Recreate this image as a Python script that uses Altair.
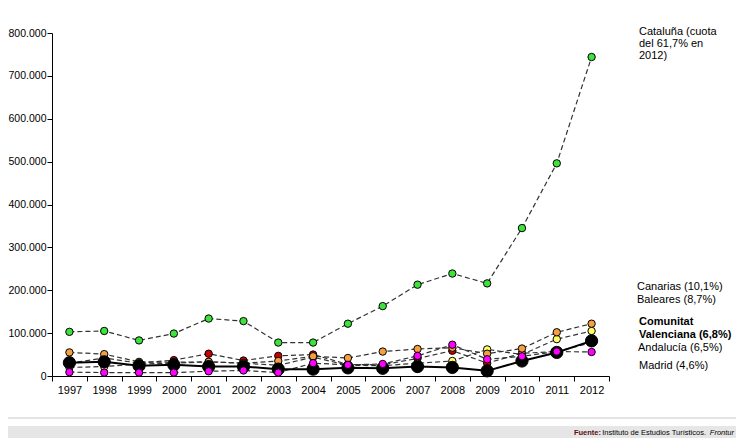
import altair as alt
import pandas as pd

years = list(range(1997, 2013))
series_names = ["Cataluña", "Andalucía", "Baleares", "Canarias", "Comunitat Valenciana", "Madrid"]
series_colors = ["#3de23d", "#c80000", "#ffff66", "#f5a040", "#000000", "#ff00ff"]

cataluna = [103000, 105000, 83000, 99000, 134000, 128000, 78000, 78000, 122000, 163000, 213000, 239000, 216000, 345000, 496000, 744000]
andalucia = [30000, 42000, 30000, 37000, 52000, 36000, 47000, 50000, 27000, 26000, 41000, 59000, 30000, 53000, 57000, 78000]
baleares = [20000, 22000, 28000, 30000, 33000, 30000, 25000, 44000, 25000, 24000, 30000, 35000, 62000, 50000, 86000, 105000]
canarias = [55000, 51000, 33000, 32000, 33000, 30000, 35000, 46000, 42000, 57000, 63000, 66000, 52000, 64000, 102000, 122000]
valenciana = [31000, 33000, 24000, 26000, 22000, 22000, 16000, 16000, 19000, 18000, 22000, 20000, 12000, 35000, 55000, 82000]
madrid = [9000, 8000, 8000, 8000, 11000, 13000, 8000, 30000, 26000, 28000, 47000, 73000, 39000, 46000, 57000, 56000]

values = [cataluna, andalucia, baleares, canarias, valenciana, madrid]

rows = []
for z, (name, vals) in enumerate(zip(series_names, values)):
    for yr, v in zip(years, vals):
        rows.append({"series": name, "year": yr, "value": v, "z": z})
df = pd.DataFrame(rows)

x_ticks = [1996.5 + i for i in range(17)]
y_ticks = list(range(0, 800001, 100000))

x_enc = alt.X("year:Q",
              scale=alt.Scale(domain=[1996.5, 2012.5], nice=False, zero=False),
              axis=alt.Axis(values=x_ticks, title=None, grid=False,
                            labelExpr="datum.value > 2012 ? '' : format(datum.value + 0.5, 'd')",
                            labelOffset=17.4, labelFlush=False, labelOverlap=False,
                            tickSize=5, labelPadding=3, labelFontSize=11,
                            domainColor="black", tickColor="black", labelColor="black"))
y_enc = alt.Y("value:Q",
              scale=alt.Scale(domain=[0, 800000], nice=False),
              axis=alt.Axis(values=y_ticks, title=None, grid=False,
                            labelExpr="replace(format(datum.value, ','), ',', '.')",
                            labelFlush=False, labelOverlap=False,
                            tickSize=5, labelPadding=1, labelFontSize=10.5,
                            domainColor="black", tickColor="black", labelColor="black"))

base = alt.Chart(df)

dashed = base.transform_filter(alt.datum.series != "Comunitat Valenciana").mark_line(
    color="#333333", strokeWidth=1.2, strokeDash=[5, 3]
).encode(x=x_enc, y=y_enc, detail="series:N")

solid = base.transform_filter(alt.datum.series == "Comunitat Valenciana").mark_line(
    color="black", strokeWidth=2
).encode(x=x_enc, y=y_enc)

points = base.mark_point(filled=True, stroke="black", strokeWidth=1, opacity=1).encode(
    x=x_enc, y=y_enc,
    fill=alt.Fill("series:N", scale=alt.Scale(domain=series_names, range=series_colors), legend=None),
    size=alt.condition(alt.datum.series == "Comunitat Valenciana", alt.value(150), alt.value(55)),
    order=alt.Order("z:Q"),
)


def txt(t, x, y, size=11, weight="normal", style="normal", color="black", align="left"):
    return alt.Chart(pd.DataFrame({"t": [t]})).mark_text(
        align=align, baseline="middle", fontSize=size, fontWeight=weight,
        fontStyle=style, color=color
    ).encode(x=alt.value(x), y=alt.value(y), text="t:N")


labels = [
    txt("Cataluña (cuota", 587, -1),
    txt("del 61,7% en", 587, 11),
    txt("2012)", 587, 23),
    txt("Canarias (10,1%)", 585, 254),
    txt("Baleares (8,7%)", 585, 267),
    txt("Comunitat", 587, 289, weight="bold"),
    txt("Valenciana (6,8%)", 587, 302, weight="bold"),
    txt("Andalucía (6,5%)", 586, 315),
    txt("Madrid (4,6%)", 587, 333),
]

footer_line = alt.Chart(pd.DataFrame({"a": [0]})).mark_rule(color="#c8c8c8", strokeWidth=1).encode(
    x=alt.value(-44), x2=alt.value(684), y=alt.value(385))
footer_band = alt.Chart(pd.DataFrame({"a": [0]})).mark_rect(color="#e6e6e6").encode(
    x=alt.value(-44), x2=alt.value(684), y=alt.value(393), y2=alt.value(405))

footer = [
    txt("Fuente:", 549, 400, size=7.5, weight="bold", color="#5a1010", align="right"),
    txt("Instituto de Estudios Turísticos.", 654, 400, size=7.5, align="right"),
    txt("Frontur", 682, 400, size=7.5, style="italic", align="right"),
]

chart = alt.layer(
    footer_line, footer_band, dashed, solid, points, *labels, *footer
).properties(
    width=557, height=343,
    autosize=alt.AutoSizeParams(type="none"),
    padding={"left": 44, "top": 25, "right": 127, "bottom": 62},
).configure(font="Liberation Sans").configure_view(stroke=None)

chart.save("out.html", embed_options={"renderer": "svg", "actions": False})
